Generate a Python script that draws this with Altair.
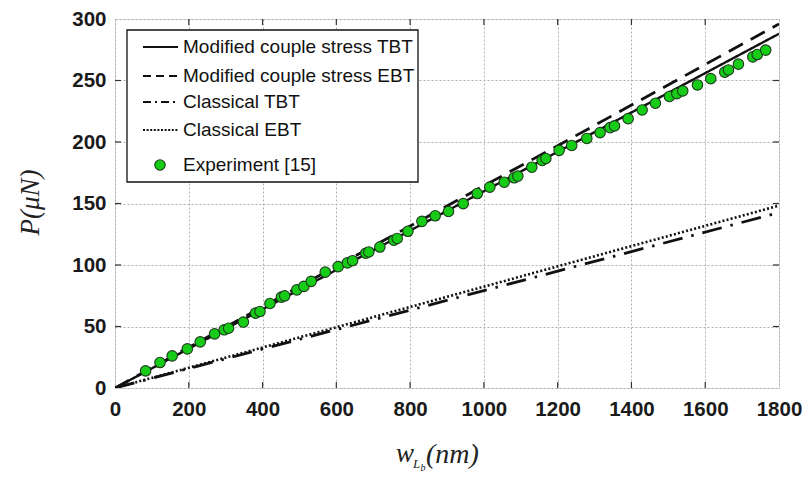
import altair as alt
import pandas as pd

# ---- data ----
line_x = [0, 600, 1200, 1800]
mcs_tbt = [0, 96, 192, 288]
mcs_ebt = [0, 99, 197, 296]
cls_tbt = [0, 47.5, 95, 142.6]
cls_ebt = [0, 49.4, 98.9, 148.3]

exp_x = [83, 122, 155, 196, 231, 270, 296, 308, 348, 381, 393, 420, 451, 460, 493, 512,
         532, 570, 605, 630, 644, 680, 688, 718, 756, 765, 794, 832, 868, 904, 944, 982,
         1016, 1055, 1082, 1092, 1130, 1158, 1168, 1204, 1238, 1279, 1315, 1342, 1354,
         1391, 1429, 1465, 1503, 1523, 1539, 1579, 1615, 1653, 1663, 1690, 1729, 1741, 1764]
exp_y = [13.9, 20.7, 26.1, 31.8, 37.5, 44.0, 47.3, 48.6, 53.6, 60.9, 62.2, 68.7, 73.9, 74.9,
         79.8, 82.6, 86.7, 94.2, 98.7, 101.7, 103.5, 109.6, 110.6, 114.6, 120.1, 121.6, 127.4,
         135.5, 140.0, 143.5, 149.9, 158.1, 163.3, 167.3, 170.9, 172.3, 179.5, 185.0, 186.6,
         193.2, 197.2, 202.9, 207.6, 211.7, 213.1, 219.0, 226.0, 231.5, 237.0, 239.3, 241.5,
         246.4, 251.5, 256.8, 258.6, 263.3, 269.2, 271.1, 274.7]

x_ticks = [0, 200, 400, 600, 800, 1000, 1200, 1400, 1600, 1800]
y_ticks = [0, 50, 100, 150, 200, 250, 300]

legend_labels = ["Modified couple stress TBT", "Modified couple stress EBT",
                 "Classical TBT", "Classical EBT", "Experiment [15]"]

W, H = 664, 369

xs = alt.Scale(domain=[0, 1800], nice=False, zero=False)
ys = alt.Scale(domain=[0, 300], nice=False, zero=False)

x_axis = alt.Axis(values=x_ticks, title=None, tickSize=0, labelPadding=11, format="d",
                  labelFont="Liberation Sans", labelFontSize=20.5, labelFontWeight="bold",
                  labelColor="#1a1a1a", grid=True, gridColor="#b0b0b0", gridDash=[2, 2],
                  gridWidth=1, domain=False, labelFlush=False, labelOverlap=False)
y_axis = alt.Axis(values=y_ticks, title="P(μN)", tickSize=0, labelPadding=9, format="d",
                  labelFont="Liberation Sans", labelFontSize=20.5, labelFontWeight="bold",
                  labelColor="#1a1a1a", grid=True, gridColor="#b0b0b0", gridDash=[2, 2],
                  gridWidth=1, domain=False, labelFlush=False,
                  titleFont="Liberation Serif", titleFontStyle="italic",
                  titleFontWeight="normal", titleFontSize=27, titleColor="#222",
                  titleX=-85, titleY=183, titleAngle=270, titleBaseline="middle",
                  titleAlign="center")


def line_layer(ys_vals, dash, width):
    df = pd.DataFrame({"x": line_x, "y": ys_vals})
    return alt.Chart(df).mark_line(color="#111", strokeWidth=width, strokeDash=dash,
                                   clip=True).encode(
        x=alt.X("x:Q", scale=xs, axis=x_axis),
        y=alt.Y("y:Q", scale=ys, axis=y_axis))


l1 = line_layer(mcs_tbt, [1, 0], 2.4)
l2 = line_layer(mcs_ebt, [16, 9], 2.8)
l3 = line_layer(cls_tbt, [20, 9, 2.5, 9], 2.8)
l4 = line_layer(cls_ebt, [2, 2.2], 2.6)

pts = alt.Chart(pd.DataFrame({"x": exp_x, "y": exp_y})).mark_point(
    filled=True, shape="circle", size=110, fill="#17cc17", stroke="#1d3a1d",
    strokeWidth=1.1, opacity=1).encode(
    x=alt.X("x:Q", scale=xs, axis=x_axis), y=alt.Y("y:Q", scale=ys, axis=y_axis))

# inward ticks on all four sides
xt = pd.DataFrame({"t": x_ticks[1:-1]})
yt = pd.DataFrame({"t": y_ticks[1:-1]})
tk_b = alt.Chart(xt).mark_rule(color="#333", strokeWidth=1.2).encode(
    x=alt.X("t:Q", scale=xs, axis=x_axis), y=alt.value(H), y2=alt.value(H - 6))
tk_t = alt.Chart(xt).mark_rule(color="#333", strokeWidth=1.2).encode(
    x=alt.X("t:Q", scale=xs, axis=x_axis), y=alt.value(0), y2=alt.value(6))
tk_l = alt.Chart(yt).mark_rule(color="#333", strokeWidth=1.2).encode(
    y=alt.Y("t:Q", scale=ys, axis=y_axis), x=alt.value(0), x2=alt.value(6))
tk_r = alt.Chart(yt).mark_rule(color="#333", strokeWidth=1.2).encode(
    y=alt.Y("t:Q", scale=ys, axis=y_axis), x=alt.value(W), x2=alt.value(W - 6))

# legend
one = pd.DataFrame({"a": [0]})
leg_box = alt.Chart(one).mark_rect(fill="white", stroke="#111", strokeWidth=1.3).encode(
    x=alt.value(12), x2=alt.value(303), y=alt.value(11), y2=alt.value(163))
row_y = [28, 57, 83, 111, 146]
dashes = [[1, 0], [8, 5], [8, 4, 2, 4], [2, 1.6]]
leg_lines = []
for i, d in enumerate(dashes):
    leg_lines.append(alt.Chart(one).mark_rule(color="#111", strokeWidth=2.2,
                                               strokeDash=d).encode(
        x=alt.value(28), x2=alt.value(63), y=alt.value(row_y[i])))
leg_pt = alt.Chart(one).mark_point(filled=True, shape="circle", size=110, fill="#17cc17",
                                   stroke="#1d3a1d", strokeWidth=1.1, opacity=1).encode(
    x=alt.value(45), y=alt.value(row_y[4]))
leg_text = alt.Chart(pd.DataFrame({"label": legend_labels, "ty": row_y})).mark_text(
    align="left", baseline="middle", font="Liberation Sans", fontSize=19,
    color="#111").encode(x=alt.value(68), y=alt.Y("ty:Q", scale=None), text="label:N")

# x-axis title: w_{L_b}(nm)
xt_w = alt.Chart(one).mark_text(text="w", font="Liberation Serif", fontStyle="italic",
                                fontSize=27, align="left", baseline="alphabetic",
                                color="#222").encode(x=alt.value(281), y=alt.value(443))
xt_L = alt.Chart(one).mark_text(text="L", font="Liberation Serif", fontStyle="italic",
                                fontSize=13, align="left", baseline="alphabetic",
                                color="#222").encode(x=alt.value(298), y=alt.value(449))
xt_b = alt.Chart(one).mark_text(text="b", font="Liberation Serif", fontStyle="italic",
                                fontSize=10, align="left", baseline="alphabetic",
                                color="#222").encode(x=alt.value(305.5), y=alt.value(452))
xt_nm = alt.Chart(one).mark_text(text="(nm)", font="Liberation Serif", fontStyle="italic",
                                 fontSize=28, align="left", baseline="alphabetic",
                                 color="#222").encode(x=alt.value(311), y=alt.value(444))

chart = alt.layer(tk_b, tk_t, tk_l, tk_r, l4, l3, l2, l1, pts, leg_box, *leg_lines,
                  leg_pt, leg_text, xt_w, xt_L, xt_b, xt_nm).properties(
    width=W, height=H,
    autosize=alt.AutoSizeParams(type="none"),
    padding={"left": 107, "top": 11, "right": 23, "bottom": 95},
).configure_view(stroke="#333", strokeWidth=1.6).configure(background="white")

chart.save("out.html", embed_options={"renderer": "svg", "actions": False})
